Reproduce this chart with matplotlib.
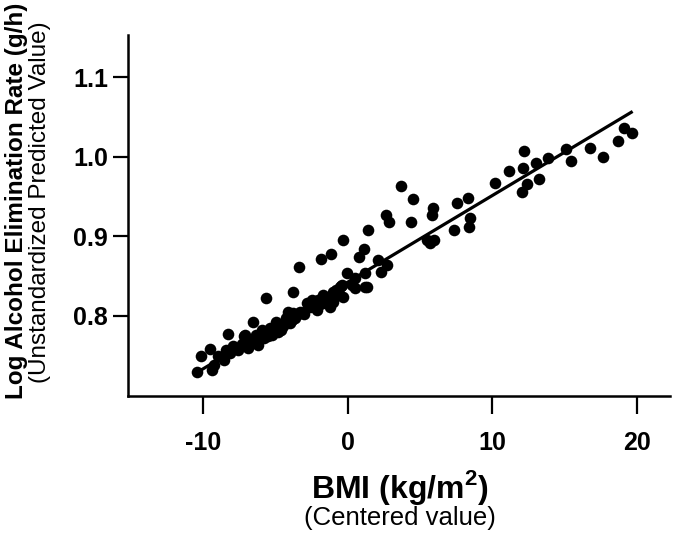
import matplotlib
matplotlib.use("Agg")
import matplotlib.pyplot as plt

plt.rcParams["font.family"] = ["Liberation Sans", "DejaVu Sans"]
plt.rcParams["mathtext.fontset"] = "custom"
plt.rcParams["mathtext.rm"] = "Liberation Sans"
plt.rcParams["mathtext.bf"] = "Liberation Sans:bold"

# BMI (centered) vs predicted log alcohol elimination rate
bmi = [19.10, 19.65, 18.69, 17.65, 16.75, 15.09, 15.43, 13.84, 13.01, 12.18,
       12.11, 13.22, 12.39, 12.04, 11.14, 10.17, 8.30, 7.54, 8.44, 8.40, 7.34,
       3.67, 4.50, 5.88, 5.81, 2.63, 2.84, 4.36, 1.38, -0.35, -1.18, -1.87,
       -3.39, -3.81, 1.11, 0.76, 2.08, 2.70, 2.28, 5.47, 5.95, 5.70, -0.07,
       0.48, 1.18, -0.42, 0.28, -0.69, -1.73, -2.49, -2.63, -1.04, -1.73,
       -1.25, -2.15, -4.15, -3.81, -3.11, 1.18, 1.31, 0.48, -0.55, -0.35,
       -1.45,
       -10.45, -10.17, -9.55, -9.27, -9.00, -8.58, -8.44, -8.17, -7.96, -8.30,
       -7.61, -7.34, -7.20, -6.92, -6.78, -6.57, -6.37, -6.23, -5.95, -5.81,
       -5.67, -5.54, -5.40, -5.26, -4.98, -4.84, -4.64, -4.50, -4.29, -4.01,
       -3.88, -3.67, -3.46, -3.32, -3.04, -2.84, -2.42, -2.21, -2.08, -1.94,
       -1.52, -1.25, -1.04, -0.83, -0.48, -9.41, -7.13]
log_rate = [1.036, 1.030, 1.020, 1.000, 1.011, 1.010, 0.995, 0.998, 0.992, 1.007,
            0.986, 0.972, 0.966, 0.956, 0.982, 0.967, 0.948, 0.942, 0.923, 0.912, 0.908,
            0.963, 0.947, 0.935, 0.927, 0.927, 0.918, 0.918, 0.908, 0.895, 0.878, 0.871,
            0.861, 0.830, 0.884, 0.874, 0.870, 0.864, 0.855, 0.895, 0.895, 0.892, 0.854,
            0.847, 0.836, 0.839, 0.839, 0.826, 0.826, 0.820, 0.811, 0.817, 0.816,
            0.811, 0.807, 0.805, 0.803, 0.803, 0.854, 0.836, 0.835, 0.836, 0.824,
            0.822,
            0.729, 0.749, 0.758, 0.738, 0.749, 0.744, 0.757, 0.753, 0.762, 0.777,
            0.757, 0.764, 0.774, 0.759, 0.769, 0.792, 0.776, 0.763, 0.782, 0.772,
            0.822, 0.775, 0.785, 0.776, 0.792, 0.780, 0.782, 0.787, 0.797, 0.791,
            0.795, 0.797, 0.802, 0.805, 0.802, 0.816, 0.812, 0.810, 0.820, 0.815,
            0.817, 0.824, 0.830, 0.832, 0.838, 0.732, 0.776]

# regression line end points
fit_x = [-10.5, 19.6]
fit_y = [0.728, 1.056]

xticks = [-10, 0, 10, 20]
yticks = [0.8, 0.9, 1.0, 1.1]

fig = plt.figure(figsize=(6.75, 5.33), dpi=100)
ax = fig.add_axes([0.19, 0.257, 0.803, 0.677])

ax.scatter(bmi, log_rate, s=70, color="black", linewidths=0, zorder=3)
ax.plot(fit_x, fit_y, color="black", lw=2.3, zorder=2)

ax.set_xlim(-15.2, 22.3)
ax.set_ylim(0.699, 1.153)
ax.set_xticks(xticks)
ax.set_xticklabels([str(t) for t in xticks])
ax.set_yticks(yticks)
ax.set_yticklabels([f"{t:.1f}" for t in yticks])

for s in ["top", "right"]:
    ax.spines[s].set_visible(False)
for s in ["left", "bottom"]:
    ax.spines[s].set_linewidth(1.8)

ax.tick_params(axis="x", length=13, width=1.6, pad=12, labelsize=18)
ax.tick_params(axis="y", length=11, width=1.6, pad=3.5, labelsize=18)
for lab in ax.get_xticklabels() + ax.get_yticklabels():
    lab.set_fontweight("bold")

fig.text(0.025, 0.623, "Log Alcohol Elimination Rate (g/h)", rotation=90,
         ha="center", va="center", fontsize=17.5, fontweight="bold")
fig.text(0.059, 0.621, "(Unstandardized Predicted Value)", rotation=90,
         ha="center", va="center", fontsize=17.5)
fig.text(0.593, 0.086, r"BMI (kg/m$^{\mathbf{2}}$)", ha="center", va="center",
         fontsize=23, fontweight="bold")
fig.text(0.593, 0.028, "(Centered value)", ha="center", va="center", fontsize=18.5)

fig.savefig("out.png", dpi=100)
